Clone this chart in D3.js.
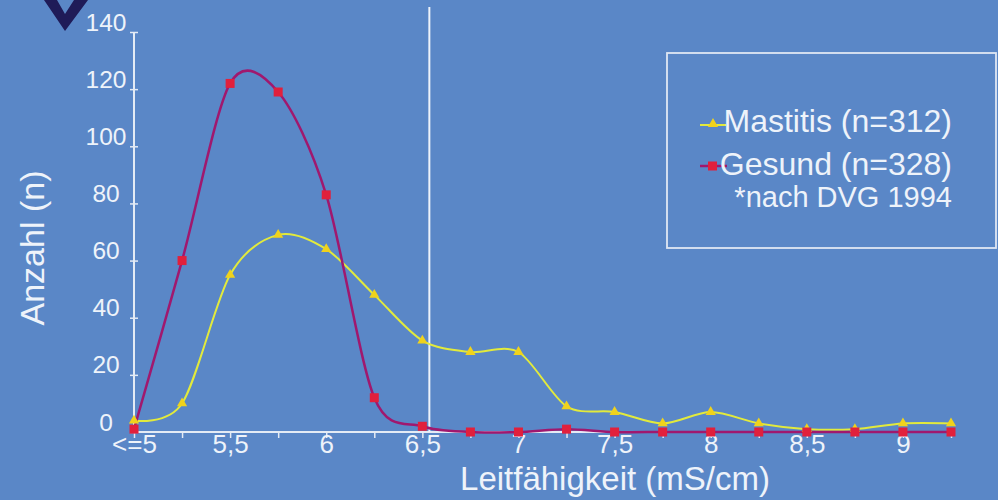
<!DOCTYPE html>
<html><head><meta charset="utf-8">
<script src="https://cdn.jsdelivr.net/npm/d3@7/dist/d3.min.js"></script>
<style>
html,body{margin:0;padding:0;background:#5a87c7;}
svg{display:block;}
text{font-family:"Liberation Sans",Arial,sans-serif;fill:#eef3fa;}
</style></head>
<body>
<script>
// ---- data ----
const categories = [5.0,5.25,5.5,5.75,6.0,6.25,6.5,6.75,7.0,7.25,7.5,7.75,8.0,8.25,8.5,8.75,9.0,9.25];
const tickLabels = ["<=5","","5,5","","6","","6,5","","7","","7,5","","8","","8,5","","9",""];
const mastitis = [4,10,55,69,64,48,32,28,28,9,7,3,7,3,1,1,3,3];
const gesund   = [1,60,122,119,83,12,2,0,0,1,0,0,0,0,0,0,0,0];
const yTicks = [0,20,40,60,80,100,120,140];
const seriesNames = ["Mastitis (n=312)","Gesund (n=328)"];
const noteText = "*nach DVG 1994";
const xTitle = "Leitfähigkeit (mS/cm)";
const yTitle = "Anzahl (n)";
const threshold = 6.5;

const W = 998, H = 500;
const svg = d3.select("body").append("svg").attr("width",W).attr("height",H);
svg.append("rect").attr("width",W).attr("height",H).attr("fill","#5a87c7");

// logo chevron
svg.append("path").attr("d","M44,0 L65,31 L88,0 L74,0 L65,14 L57,0 Z").attr("fill","#1f1b58");

const x = d3.scalePoint().domain(categories).range([134,951]);
const y = d3.scaleLinear().domain([0,140]).range([432,32]);
const axisCol = "#e4ebf5";

// Y axis
const ya = svg.append("g").attr("transform","translate(134,0)")
  .call(d3.axisLeft(y).tickValues(yTicks).tickSize(4).tickPadding(0));
ya.select(".domain").attr("stroke",axisCol).attr("stroke-width",2).attr("d","M0,"+y(0)+"V"+y(140));
ya.selectAll(".tick line").attr("stroke",axisCol).attr("stroke-width",1.5).attr("x1",-4).attr("x2",4);
ya.selectAll(".tick text").attr("x",-28).attr("dy","-2").attr("text-anchor","middle")
  .style("font-size","24.5px").style("font-family","'Liberation Sans',Arial,sans-serif").attr("fill","#eef3fa");

// X axis
const xa = svg.append("g").attr("transform","translate(0,"+y(0)+")")
  .call(d3.axisBottom(x).tickSize(6).tickPadding(0).tickFormat((d,i)=>tickLabels[i]));
xa.select(".domain").attr("stroke",axisCol).attr("stroke-width",2).attr("d","M"+x(categories[0])+",0H"+x(categories[categories.length-1]));
xa.selectAll(".tick line").attr("stroke",axisCol).attr("stroke-width",1.5);
xa.selectAll(".tick text").attr("y",0).attr("dy","0.8em").attr("text-anchor","middle")
  .style("font-size","26px").style("font-family","'Liberation Sans',Arial,sans-serif").attr("fill","#eef3fa");

// threshold line
svg.append("line").attr("x1",x(threshold)+7).attr("x2",x(threshold)+7).attr("y1",7).attr("y2",y(0))
  .attr("stroke","#eef3fa").attr("stroke-width",2);

// titles
svg.append("text").attr("x",615).attr("y",490).attr("text-anchor","middle").style("font-size","33px").text(xTitle);
svg.append("text").attr("transform","translate(44,248) rotate(-90)").attr("text-anchor","middle").style("font-size","34px").text(yTitle);

// lines
const line = d3.line().x((d,i)=>x(categories[i])).y(d=>y(d)).curve(d3.curveCardinal.tension(0.1));
svg.append("path").datum(mastitis).attr("d",line).attr("fill","none").attr("stroke","#e2ea3c").attr("stroke-width",2);
svg.append("path").datum(gesund).attr("d",line).attr("fill","none").attr("stroke","#a0186e").attr("stroke-width",2.5);

const tri = d3.symbol().type(d3.symbolTriangle).size(45);
svg.append("g").selectAll("path").data(mastitis).join("path")
  .attr("transform",(d,i)=>"translate("+x(categories[i])+","+y(d)+")").attr("d",tri).attr("fill","#f0d21c");
svg.append("g").selectAll("rect").data(gesund).join("rect")
  .attr("x",(d,i)=>x(categories[i])-4.5).attr("y",d=>y(d)-4.5).attr("width",9).attr("height",9).attr("fill","#e1203c");

// legend
svg.append("rect").attr("x",667).attr("y",53).attr("width",329).attr("height",195)
  .attr("fill","none").attr("stroke","#dfe7f3").attr("stroke-width",1.8);
svg.append("line").attr("x1",700).attr("x2",726).attr("y1",125).attr("y2",125).attr("stroke","#e2ea3c").attr("stroke-width",2);
svg.append("path").attr("transform","translate(713,124)").attr("d",tri).attr("fill","#f0d21c");
svg.append("line").attr("x1",700).attr("x2",727).attr("y1",166).attr("y2",166).attr("stroke","#a0186e").attr("stroke-width",2.5);
svg.append("rect").attr("x",708).attr("y",161.5).attr("width",9).attr("height",9).attr("fill","#e1203c");
svg.append("text").attr("x",952).attr("y",132).attr("text-anchor","end").style("font-size","32px").text(seriesNames[0]);
svg.append("text").attr("x",952).attr("y",175).attr("text-anchor","end").style("font-size","32px").text(seriesNames[1]);
svg.append("text").attr("x",952).attr("y",207).attr("text-anchor","end").style("font-size","29px").text(noteText);
</script>
</body></html>
